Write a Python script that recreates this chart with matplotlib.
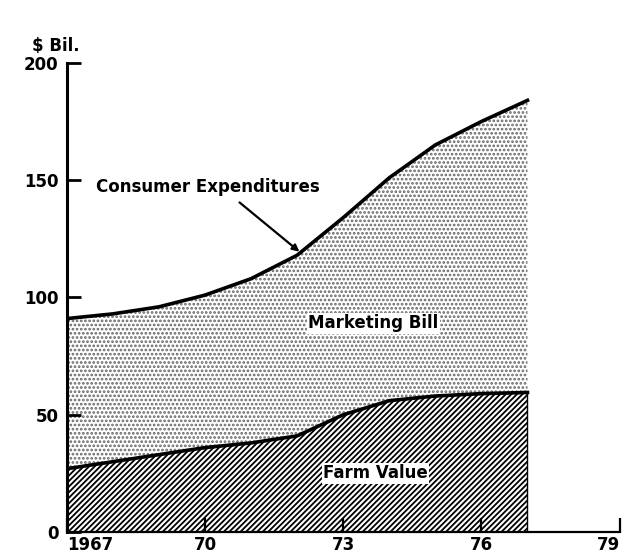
import matplotlib.pyplot as plt

# Values ($ billion)
years = [1967, 1968, 1969, 1970, 1971, 1972, 1973, 1974, 1975, 1976, 1977]
consumer = [91, 93, 96, 101, 108, 118, 134, 151, 165, 175, 184]
farm = [27, 30, 33, 36, 38, 41, 50, 56, 58, 59, 59.5]
xticks = [1967, 1970, 1973, 1976, 1979]
xlabels = ['1967', '70', '73', '76', '79']
yticks = [0, 50, 100, 150, 200]

plt.rcParams['font.family'] = 'DejaVu Sans'
plt.rcParams['font.weight'] = 'bold'
plt.rcParams['hatch.linewidth'] = 1.3

fig = plt.figure(figsize=(6.24, 5.56), dpi=100)
ax = fig.add_axes([0.107, 0.043, 0.886, 0.844])

# marketing bill: stippled band between farm value and consumer expenditures
ax.fill_between(years, farm, consumer, facecolor='white', edgecolor='#666666',
                hatch='....', linewidth=0)
# farm value: diagonal hatching
ax.fill_between(years, 0, farm, facecolor='white', edgecolor='black',
                hatch='//////', linewidth=0)
ax.plot(years, consumer, color='black', lw=2.6, solid_joinstyle='round')
ax.plot(years, farm, color='black', lw=2.6, solid_joinstyle='round')
ax.plot([years[-1], years[-1]], [0, farm[-1]], color='black', lw=1)

ax.set_xlim(1967, 1979)
ax.set_ylim(0, 200)
ax.spines['top'].set_visible(False)
ax.spines['right'].set_visible(False)
ax.spines['left'].set_linewidth(2.2)
ax.spines['bottom'].set_linewidth(1.6)

ax.set_yticks(yticks)
ax.set_yticklabels([str(v) for v in yticks], fontsize=12, fontweight='bold')
ax.set_xticks(xticks)
ax.set_xticklabels(xlabels, fontsize=12, fontweight='bold')
ax.tick_params(axis='y', direction='in', length=10, width=2, pad=6)
ax.tick_params(axis='x', direction='in', length=10, width=1.6, pad=3)
ax.get_xticklabels()[0].set_horizontalalignment('left')
ax.get_xticklabels()[-1].set_horizontalalignment('right')

ax.text(1966.25, 207, '$ Bil.', fontsize=12, fontweight='bold', ha='left',
        va='center', clip_on=False)

ax.text(1970.07, 147, 'Consumer Expenditures', fontsize=12, fontweight='bold',
        ha='center', va='center')
ax.annotate('', xy=(1972.05, 119.5), xytext=(1970.75, 140.5),
            arrowprops=dict(arrowstyle='-|>', color='black', lw=1.6,
                            shrinkA=0, shrinkB=0))
ax.text(1973.65, 89, 'Marketing Bill', fontsize=12, fontweight='bold',
        ha='center', va='center',
        bbox=dict(facecolor='white', edgecolor='none', pad=1))
ax.text(1973.7, 25, 'Farm Value', fontsize=12, fontweight='bold',
        ha='center', va='center',
        bbox=dict(facecolor='white', edgecolor='none', pad=1))

fig.savefig('out.png', dpi=100)
